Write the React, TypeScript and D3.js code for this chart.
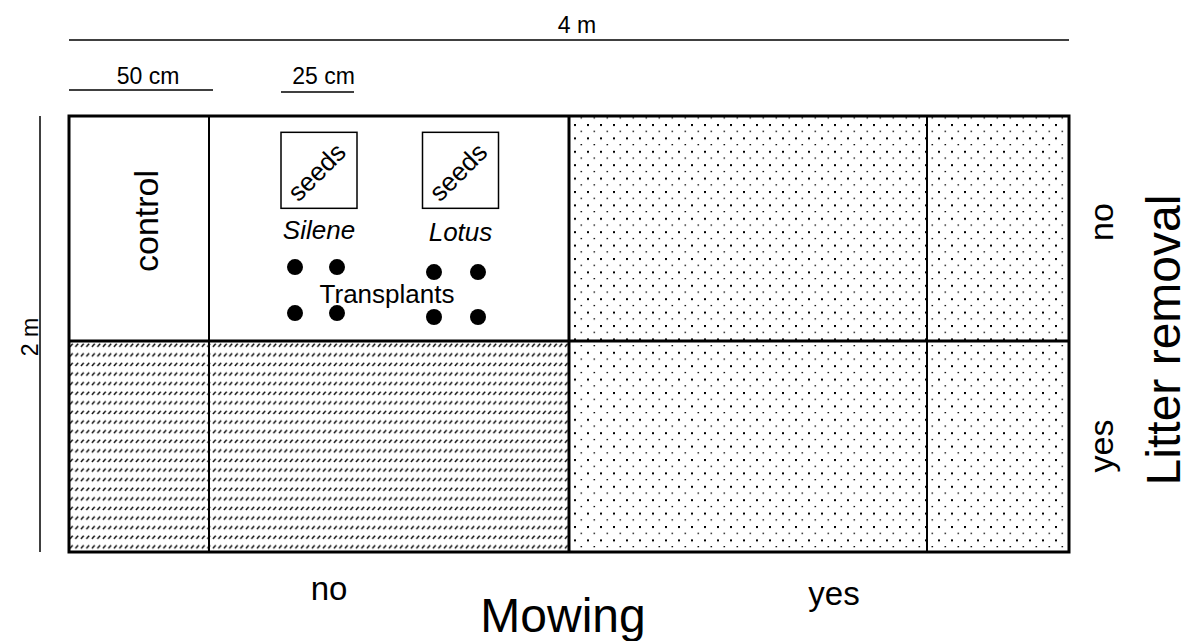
import React from "react";
import * as d3 from "d3";

// Plot layout in metres (4 m x 2 m experimental plot)
const plotWidthM = 4;
const plotHeightM = 2;
const columnEdges = [0, 0.56, 2, 3.432, 4];
const rowEdges = [0, 1.032, 2];
const mowingLevels = ["no", "yes"];
const litterLevels = ["no", "yes"];
const seedSpecies = ["Silene", "Lotus"];
const seedBoxCentreX = [1.0, 1.566];
const seedBoxCentreY = [0.24, 0.24];
const speciesLabelY = [0.566, 0.575];
const transplantX = [
  [0.904, 1.072],
  [1.46, 1.636],
];
const transplantY = [
  [0.693, 0.904],
  [0.716, 0.922],
];
const scaleBars = [
  { label: "50 cm", from: 0, to: 0.576 },
  { label: "25 cm", from: 0.848, to: 1.14 },
];

const W = 1189;
const H = 641;
const FONT = "'Liberation Sans', Arial, Helvetica, sans-serif";

export default function App() {
  const x = d3.scaleLinear().domain([0, plotWidthM]).range([69, 1069]);
  const y = d3.scaleLinear().domain([0, plotHeightM]).range([116, 552]);
  const boxPx = 76;

  const litterLabelY = [y(0.5) - 3, y(1.5) + 3];
  const mowX = [x(1.04), x(3.06)];

  return (
    <svg
      width={W}
      height={H}
      viewBox={`0 0 ${W} ${H}`}
      style={{ position: "absolute", left: 0, top: 0, background: "#fff" }}
      fontFamily={FONT}
    >
      <defs>
        <pattern id="hatch" patternUnits="userSpaceOnUse" x={x(0)} y={y(rowEdges[1]) + 2} width={5.5} height={9.6}>
          <line x1={0.9} y1={3.9} x2={3.7} y2={0.7} stroke="#000" strokeWidth={1.4} />
        </pattern>
        <pattern id="dots" patternUnits="userSpaceOnUse" x={x(2) + 5} y={y(0) + 8} width={13} height={13.4}>
          <rect x={0} y={0} width={2} height={2} fill="#000" />
          <rect x={6.5} y={6.7} width={1.6} height={1.2} fill="#000" />
        </pattern>
      </defs>

      <rect x={0} y={0} width={W} height={H} fill="#fff" />

      {/* patterned treatments */}
      <rect
        x={x(0)}
        y={y(rowEdges[1])}
        width={x(2) - x(0)}
        height={y(2) - y(rowEdges[1])}
        fill="url(#hatch)"
      />
      <rect x={x(2)} y={y(0)} width={x(4) - x(2)} height={y(2) - y(0)} fill="url(#dots)" />

      {/* grid lines */}
      {columnEdges.slice(1, -1).map((c, i) => (
        <line
          key={"c" + i}
          x1={x(c)}
          x2={x(c)}
          y1={y(0)}
          y2={y(2)}
          stroke="#000"
          strokeWidth={c === 2 ? 3 : 2}
        />
      ))}
      <line x1={x(0)} x2={x(4)} y1={y(rowEdges[1])} y2={y(rowEdges[1])} stroke="#000" strokeWidth={3} />
      <rect x={x(0)} y={y(0)} width={x(4) - x(0)} height={y(2) - y(0)} fill="none" stroke="#000" strokeWidth={3} />

      {/* dimension lines */}
      <line x1={x(0)} x2={x(4)} y1={40} y2={40} stroke="#000" strokeWidth={1.5} />
      <text x={(x(0) + x(4)) / 2 + 8} y={33} fontSize={23} textAnchor="middle">4 m</text>
      {scaleBars.map((b) => (
        <g key={b.label}>
          <line x1={x(b.from)} x2={x(b.to)} y1={b.label === "50 cm" ? 90 : 92} y2={b.label === "50 cm" ? 90 : 92} stroke="#000" strokeWidth={1.6} />
          <text x={(x(b.from) + x(b.to)) / 2 + (b.label === "50 cm" ? 7 : 6)} y={84} fontSize={23} textAnchor="middle">
            {b.label}
          </text>
        </g>
      ))}
      <line x1={40} x2={40} y1={y(0)} y2={y(2)} stroke="#000" strokeWidth={1.5} />
      <text transform={`translate(38,${(y(0) + y(2)) / 2 + 3}) rotate(-90)`} fontSize={23} textAnchor="middle">2 m</text>

      {/* control label */}
      <text transform={`translate(158,${y(0) + 105}) rotate(-90)`} fontSize={34} textAnchor="middle">control</text>

      {/* seed boxes */}
      {seedSpecies.map((sp, i) => {
        const cx = x(seedBoxCentreX[i]);
        const cy = y(seedBoxCentreY[i]) + 2;
        return (
          <g key={sp}>
            <rect x={cx - boxPx / 2} y={cy - boxPx / 2} width={boxPx} height={boxPx} fill="#fff" stroke="#000" strokeWidth={1.5} />
            <text transform={`translate(${cx + 4},${cy + 8}) rotate(-45)`} fontSize={26} textAnchor="middle">seeds</text>
            <text x={cx} y={y(speciesLabelY[i])} fontSize={26} fontStyle="italic" textAnchor="middle">{sp}</text>
            {transplantX[i].map((tx) =>
              transplantY[i].map((ty) => (
                <circle key={tx + "-" + ty} cx={x(tx)} cy={y(ty)} r={8} fill="#000" />
              ))
            )}
          </g>
        );
      })}
      <text x={387} y={303} fontSize={26} textAnchor="middle">Transplants</text>

      {/* litter removal axis */}
      {litterLevels.map((l, i) => (
        <text key={l} transform={`translate(1113,${litterLabelY[i]}) rotate(-90)`} fontSize={34} textAnchor="middle">
          {l}
        </text>
      ))}
      <text transform={`translate(1180,${(y(0) + y(2)) / 2 + 6}) rotate(-90)`} fontSize={48} textAnchor="middle">Litter removal</text>

      {/* mowing axis */}
      {mowingLevels.map((m, i) => (
        <text key={m} x={mowX[i]} y={i === 0 ? 600 : 605} fontSize={33} textAnchor="middle">{m}</text>
      ))}
      <text x={563} y={632} fontSize={48} textAnchor="middle">Mowing</text>
    </svg>
  );
}
